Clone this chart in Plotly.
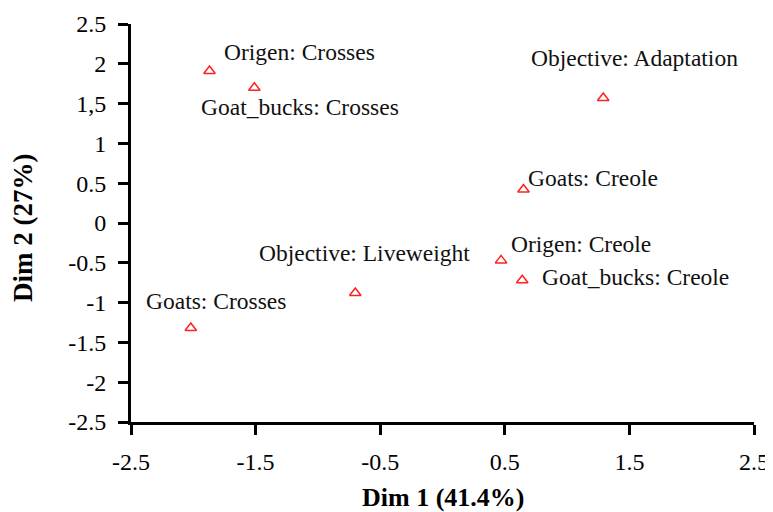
import plotly.graph_objects as go

labels = ["Origen: Crosses", "Goat_bucks: Crosses", "Objective: Adaptation", "Goats: Creole",
          "Origen: Creole", "Goat_bucks: Creole", "Objective: Liveweight", "Goats: Crosses"]
dim1 = [-1.87, -1.51, 1.29, 0.65, 0.47, 0.64, -0.70, -2.02]
dim2 = [1.91, 1.70, 1.57, 0.42, -0.47, -0.72, -0.88, -1.32]
# label offsets in pixels (styling)
label_dx = [90, 46, 31, 70, 80, 113, 9, 25]
label_dy = [19, -19, 40, 12, 16, 3, 40, 27]

xtick_vals = [-2.5, -1.5, -0.5, 0.5, 1.5, 2.5]
xtick_text = ["-2.5", "-1.5", "-0.5", "0.5", "1.5", "2.5"]
ytick_vals = [2.5, 2, 1.5, 1, 0.5, 0, -0.5, -1, -1.5, -2, -2.5]
ytick_text = ["2.5", "2", "1,5", "1", "0.5", "0", "-0.5", "-1", "-1.5", "-2", "-2.5"]

FONT = "Liberation Serif"

fig = go.Figure()
fig.add_trace(go.Scatter(
    x=dim1, y=dim2, mode="markers",
    marker=dict(symbol="triangle-up-open", size=10, color="#ff2020", line=dict(width=1.5, color="#ff2020")),
    showlegend=False, hoverinfo="skip", cliponaxis=False))

for x, y, t, dx, dy in zip(dim1, dim2, labels, label_dx, label_dy):
    fig.add_annotation(x=x, y=y, text=t, showarrow=False, xshift=dx, yshift=dy,
                       font=dict(family=FONT, size=23.5, color="#111"))

axis_common = dict(showline=True, linecolor="black", linewidth=3, ticks="outside", ticklen=10,
                   tickwidth=2.5, tickcolor="black", showgrid=False, zeroline=False,
                   tickfont=dict(family=FONT, size=24, color="black"), mirror=False, automargin=False)

fig.update_xaxes(range=[-2.5, 2.5], tickvals=xtick_vals, ticktext=xtick_text,
                 ticklabelstandoff=6, **axis_common)
fig.update_yaxes(range=[-2.5, 2.5], tickvals=ytick_vals, ticktext=ytick_text,
                 ticklabelstandoff=7, **axis_common)

fig.add_annotation(text="<b>Dim 1 (41.4%)</b>", xref="paper", yref="paper", x=0.5, y=0,
                   yshift=-75, showarrow=False, xanchor="center", yanchor="middle",
                   font=dict(family=FONT, size=26, color="black"))
fig.add_annotation(text="<b>Dim 2 (27%)</b>", xref="paper", yref="paper", x=0, y=0.5,
                   xshift=-108, yshift=-5, showarrow=False, textangle=-90,
                   xanchor="center", yanchor="middle",
                   font=dict(family=FONT, size=27, color="black"))

# page body adds an 8px offset; figure is sized so the plot lands where the reference has it
fig.update_layout(width=765, height=504, margin=dict(l=123, r=19, t=16, b=90),
                  plot_bgcolor="white", paper_bgcolor="white")

fig.write_html("out.html")
